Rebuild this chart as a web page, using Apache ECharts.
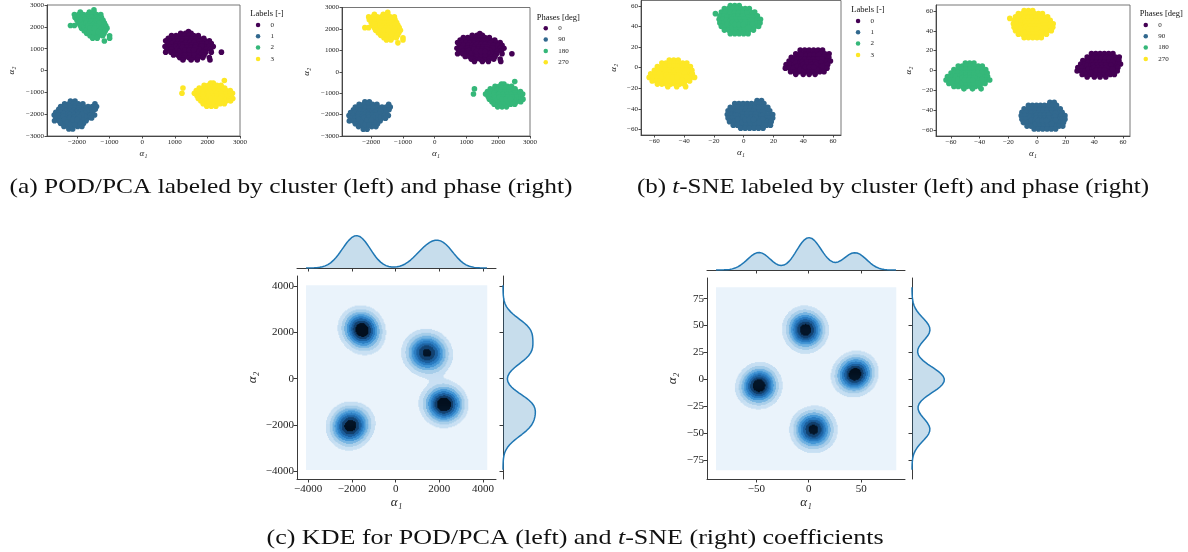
<!DOCTYPE html>
<html>
<head>
<meta charset="utf-8">
<script src="https://cdn.jsdelivr.net/npm/echarts@6/dist/echarts.min.js"></script>
<style>
  html, body { margin: 0; padding: 0; background: #fff; }
  #chart { width: 1188px; height: 552px; }
</style>
</head>
<body>
<div id="chart"></div>
<script>
// ---------------------------------------------------------------------------
// Data: 2-D embedding coefficients (alpha1, alpha2) grouped by cluster label.
// Each row is [alpha2, [alpha1, alpha1, ...]] — points sharing roughly one alpha2.
// The later rows of each cluster hold its denser core.
// ---------------------------------------------------------------------------
const pcaCluster0 = [
  [1780, [1420]],
  [1700, [1180, 1330, 1500]],
  [1600, [900, 1040, 1170, 1300, 1440, 1580, 1720]],
  [1480, [800, 940, 1070, 1200, 1340, 1470, 1610, 1750, 1890]],
  [1360, [720, 860, 990, 1120, 1260, 1390, 1530, 1660, 1800, 1930, 2060]],
  [1230, [780, 910, 1050, 1180, 1310, 1450, 1580, 1710, 1850, 1990, 2120]],
  [1100, [700, 840, 980, 1110, 1240, 1380, 1510, 1640, 1780, 1910, 2050, 2180]],
  [970,  [760, 900, 1030, 1170, 1300, 1430, 1570, 1700, 1830, 1970, 2100]],
  [840,  [720, 880, 1010, 1140, 1280, 1410, 1540, 1680, 1810, 1950, 2120, 2430]],
  [710,  [960, 1090, 1230, 1360, 1500, 1630, 1770, 1900]],
  [590,  [1150, 1290, 1430, 1580, 1720, 1860, 2060]],
  [480,  [1250, 1500, 1690, 2080]],
  [1440, [1250, 1380, 1510, 1640]],
  [1330, [1100, 1230, 1360, 1490, 1620, 1750]],
  [1220, [1050, 1180, 1310, 1440, 1570, 1700, 1830]],
  [1110, [1040, 1170, 1300, 1430, 1560, 1690, 1820]],
  [1000, [1080, 1210, 1340, 1470, 1600, 1730]],
  [890,  [1160, 1290, 1420, 1550, 1680]],
  [790,  [1330, 1460, 1590]],
  [1280, [1330, 1460, 1590]],
  [1170, [1250, 1380, 1510, 1640]],
  [1060, [1240, 1370, 1500, 1630]],
  [950,  [1320, 1450, 1580]]
];
const pcaCluster1 = [
  [-1400, [-2200, -2060]],
  [-1520, [-2380, -2240, -2100, -1960, -1820, -1450]],
  [-1650, [-2500, -2360, -2220, -2080, -1940, -1800, -1660, -1530, -1400]],
  [-1780, [-2560, -2420, -2280, -2140, -2000, -1860, -1720, -1580, -1440]],
  [-1910, [-2650, -2510, -2370, -2230, -2090, -1950, -1810, -1670, -1530]],
  [-2040, [-2700, -2570, -2430, -2290, -2150, -2010, -1870, -1730, -1590, -1460]],
  [-2170, [-2650, -2510, -2370, -2230, -2090, -1950, -1810, -1670, -1550]],
  [-2300, [-2690, -2560, -2420, -2280, -2140, -2000, -1860, -1720]],
  [-2430, [-2500, -2360, -2220, -2080, -1940, -1800]],
  [-2560, [-2400, -2260, -2120, -1980, -1850]],
  [-2680, [-2250, -2130]],
  [-1720, [-2200, -2070, -1940]],
  [-1840, [-2350, -2220, -2090, -1960, -1830, -1700]],
  [-1970, [-2400, -2270, -2140, -2010, -1880, -1750]],
  [-2100, [-2410, -2280, -2150, -2020, -1890, -1760]],
  [-2230, [-2380, -2250, -2120, -1990, -1860]],
  [-2360, [-2300, -2170, -2040, -1910]],
  [-2470, [-2200, -2070]],
  [-1900, [-2150, -2020, -1890]],
  [-1960, [-2100, -1980]],
  [-2020, [-2220, -2090, -1960, -1850]],
  [-2140, [-2210, -2080, -1950]],
  [-2250, [-2130, -2000]]
];
const pcaCluster2 = [
  [2780, [-1480]],
  [2680, [-1900, -1620, -1480]],
  [2560, [-2080, -1950, -1810, -1680, -1540, -1400, -1270]],
  [2430, [-2060, -1920, -1790, -1650, -1520, -1380, -1250]],
  [2300, [-2000, -1870, -1730, -1600, -1460, -1330, -1200]],
  [2170, [-1960, -1830, -1690, -1560, -1420, -1290, -1160]],
  [2060, [-2200, -2080, -1900, -1770, -1640, -1500, -1370, -1240, -1120]],
  [1940, [-1860, -1730, -1600, -1460, -1330, -1200, -1080]],
  [1820, [-1780, -1650, -1510, -1380, -1250, -1130]],
  [1700, [-1700, -1560, -1430, -1300, -1170]],
  [1590, [-1600, -1470, -1340, -1210, -1000]],
  [1480, [-1520, -1380, -1000]],
  [1350, [-1160]],
  [2440, [-1800, -1670, -1540, -1410]],
  [2330, [-1880, -1750, -1620, -1490, -1360]],
  [2220, [-1890, -1760, -1630, -1500, -1370, -1240]],
  [2110, [-1830, -1700, -1570, -1440, -1310, -1180]],
  [2000, [-1780, -1650, -1520, -1390, -1260]],
  [1890, [-1700, -1570, -1440, -1310]],
  [1780, [-1620, -1490, -1360]],
  [2270, [-1700, -1570, -1440]],
  [2160, [-1720, -1590, -1460, -1330]],
  [2110, [-1640, -1500]],
  [2050, [-1670, -1540, -1410]],
  [1940, [-1600, -1470]]
];
const pcaCluster3 = [
  [-460,  [2520]],
  [-570,  [2100, 2180]],
  [-680,  [1900, 2030, 2160, 2290, 2420]],
  [-800,  [1250, 1750, 1880, 2010, 2140, 2270, 2400, 2530]],
  [-920,  [1660, 1790, 1920, 2050, 2180, 2310, 2440, 2570, 2700]],
  [-1040, [1220, 1600, 1730, 1860, 1990, 2120, 2250, 2380, 2510, 2640, 2770]],
  [-1160, [1680, 1810, 1940, 2070, 2200, 2330, 2460, 2590, 2720]],
  [-1280, [1720, 1850, 1980, 2110, 2240, 2370, 2500, 2630, 2780]],
  [-1400, [1800, 1930, 2060, 2190, 2320, 2450, 2580, 2710]],
  [-1520, [1870, 2000, 2130, 2260, 2390, 2520]],
  [-1640, [1980, 2120, 2260]],
  [-760,  [2100, 2230, 2360]],
  [-870,  [1960, 2090, 2220, 2350, 2480]],
  [-980,  [1880, 2010, 2140, 2270, 2400, 2530]],
  [-1090, [1870, 2000, 2130, 2260, 2390, 2520]],
  [-1200, [1900, 2030, 2160, 2290, 2420, 2550]],
  [-1310, [1980, 2110, 2240, 2370, 2500]],
  [-1420, [2060, 2190, 2320, 2450]],
  [-950,  [2080, 2210, 2340]],
  [-1060, [2020, 2150, 2280, 2410]],
  [-1170, [2040, 2170, 2300, 2430]],
  [-1280, [2120, 2250, 2380]]
];

const tsneCluster0 = [
  [17,   [38, 41, 44, 47, 50, 53]],
  [13.5, [35, 37.8, 40.6, 43.4, 46.2, 49, 51.8, 54.6, 57.4]],
  [10,   [32, 34.8, 37.6, 40.4, 43.2, 46, 48.8, 51.6, 54.4, 57.2]],
  [6.5,  [30.5, 33.3, 36.1, 38.9, 41.7, 44.5, 47.3, 50.1, 52.9, 55.7, 58.3]],
  [3,    [28.5, 31.3, 34.1, 36.9, 39.7, 42.5, 45.3, 48.1, 50.9, 53.7, 56.5]],
  [-0.5, [28, 30.8, 33.6, 36.4, 39.2, 42, 44.8, 47.6, 50.4, 53.2, 56]],
  [-4,   [31.5, 34.3, 37.1, 39.9, 42.7, 45.5, 48.3, 51.1, 54]],
  [-6.5, [35, 40, 44, 48]],
  [12,   [39, 41.8, 44.6, 47.4, 50.2]],
  [8.5,  [36, 38.8, 41.6, 44.4, 47.2, 50, 52.8]],
  [5,    [35, 37.8, 40.6, 43.4, 46.2, 49, 51.8]],
  [1.5,  [36, 38.8, 41.6, 44.4, 47.2, 50, 52.8]],
  [-1.8, [38, 40.8, 43.6, 46.4, 49.2]],
  [8,    [41, 43.8, 46.6]],
  [5.5,  [39.5, 42.3, 45.1, 47.9]],
  [3,    [40, 42.8, 45.6, 48.4]],
  [0.5,  [41.5, 44.3, 47.1]]
];
const tsneCluster1 = [
  [-32,   [9, 12]],
  [-35,   [-6, -3.2, -0.4, 2.4, 5.2, 8, 10.8, 13.6]],
  [-38.5, [-9, -6.2, -3.4, -0.6, 2.2, 5, 7.8, 10.6, 13.4, 16.2]],
  [-42,   [-10.5, -7.7, -4.9, -2.1, 0.7, 3.5, 6.3, 9.1, 11.9, 14.7, 17.5]],
  [-45.5, [-11, -8.2, -5.4, -2.6, 0.2, 3, 5.8, 8.6, 11.4, 14.2, 17, 19.5]],
  [-49,   [-10.5, -7.7, -4.9, -2.1, 0.7, 3.5, 6.3, 9.1, 11.9, 14.7, 17.5, 19.5]],
  [-52.5, [-9.5, -6.7, -3.9, -1.1, 1.7, 4.5, 7.3, 10.1, 12.9, 15.7, 18.5]],
  [-56,   [-7, -4.2, -1.4, 1.4, 4.2, 7, 9.8, 12.6, 15.4, 18]],
  [-59,   [-2, 1, 4, 7, 10, 13]],
  [-39.5, [-1, 1.8, 4.6, 7.4, 10.2]],
  [-43,   [-4, -1.2, 1.6, 4.4, 7.2, 10, 12.8]],
  [-46.5, [-4.5, -1.7, 1.1, 3.9, 6.7, 9.5, 12.3]],
  [-50,   [-4, -1.2, 1.6, 4.4, 7.2, 10, 12.8]],
  [-53.5, [-1, 1.8, 4.6, 7.4, 10.2]],
  [-42.5, [1, 3.8, 6.6]],
  [-45,   [-0.5, 2.3, 5.1, 7.9]],
  [-48,   [-0.5, 2.3, 5.1, 7.9]],
  [-50.5, [1, 3.8, 6.6]]
];
const tsneCluster2 = [
  [60.5, [-9, -6, -3]],
  [57.5, [-13, -10.2, -7.4, -4.6, -1.8, 1, 3.8]],
  [54,   [-15, -12.2, -9.4, -6.6, -3.8, -1, 1.8, 4.6, 7.4]],
  [52.5, [-19]],
  [50.5, [-16, -13.2, -10.4, -7.6, -4.8, -2, 0.8, 3.6, 6.4, 9.2]],
  [47,   [-16.5, -13.7, -10.9, -8.1, -5.3, -2.5, 0.3, 3.1, 5.9, 8.7, 11.3]],
  [43.5, [-16, -13.2, -10.4, -7.6, -4.8, -2, 0.8, 3.6, 6.4, 9.2, 11]],
  [40,   [-15, -12.2, -9.4, -6.6, -3.8, -1, 1.8, 4.6, 7.4, 10]],
  [36.5, [-13, -10.2, -7.4, -4.6, -1.8, 1, 3.8, 6.6]],
  [33,   [-9, -6, -3, 0, 3]],
  [53,   [-9, -6.2, -3.4, -0.6, 2.2]],
  [49.5, [-11, -8.2, -5.4, -2.6, 0.2, 3, 5.8]],
  [46,   [-11.5, -8.7, -5.9, -3.1, -0.3, 2.5, 5.3]],
  [42.5, [-11, -8.2, -5.4, -2.6, 0.2, 3, 5.8]],
  [39,   [-8, -5.2, -2.4, 0.4, 3.2]],
  [50,   [-6.5, -3.7, -0.9]],
  [47.5, [-8, -5.2, -2.4, 0.4]],
  [44.5, [-7.5, -4.7, -1.9, 0.9]],
  [42,   [-6, -3.2, -0.4]]
];
const tsneCluster3 = [
  [7.5,   [-50, -47, -44]],
  [4.5,   [-55, -52.2, -49.4, -46.6, -43.8, -41, -38.2]],
  [1,     [-58, -55.2, -52.4, -49.6, -46.8, -44, -41.2, -38.4, -35.8]],
  [-2.5,  [-60, -57.2, -54.4, -51.6, -48.8, -46, -43.2, -40.4, -37.6, -34.8]],
  [-6,    [-62.5, -59.7, -56.9, -54.1, -51.3, -48.5, -45.7, -42.9, -40.1, -37.3, -34.5]],
  [-9.5,  [-63.5, -60.7, -57.9, -55.1, -52.3, -49.5, -46.7, -43.9, -41.1, -38.3, -35.5, -33]],
  [-13,   [-61.5, -58.7, -55.9, -53.1, -50.3, -47.5, -44.7, -41.9, -39.1, -36.3]],
  [-16,   [-58, -55, -52, -49, -46, -43, -40]],
  [-18.5, [-51, -45, -39]],
  [1.5,   [-52.5, -49.7, -46.9, -44.1, -41.3]],
  [-2,    [-55, -52.2, -49.4, -46.6, -43.8, -41, -38.5]],
  [-5.5,  [-56.5, -53.7, -50.9, -48.1, -45.3, -42.5, -39.7]],
  [-9,    [-55, -52.2, -49.4, -46.6, -43.8, -41, -38.5]],
  [-12.5, [-52.5, -49.7, -46.9, -44.1, -41.3]],
  [-2.5,  [-51, -48.2, -45.4]],
  [-4.5,  [-52.5, -49.7, -46.9, -44.1]],
  [-7,    [-52, -49.2, -46.4, -43.6]],
  [-9.5,  [-50.5, -47.7, -44.9]]
];

// Labels and phases
const clusterLabels = ['0', '1', '2', '3'];
const phaseLabels = ['0', '90', '180', '270'];
const clusterPhase = [0, 90, 270, 180];          // phase [deg] of cluster label 0..3
const viridis4 = ['#440154', '#31688e', '#35b779', '#fde725'];

// Tick values
const pcaScatterXTicks = [-2000, -1000, 0, 1000, 2000, 3000];
const pcaScatterYTicks = [-3000, -2000, -1000, 0, 1000, 2000, 3000];
const tsneScatterTicks = [-60, -40, -20, 0, 20, 40, 60];
const pcaKdeTicks = [-4000, -2000, 0, 2000, 4000];
const tsneKdeXTicks = [-50, 0, 50];
const tsneKdeYTicks = [-75, -50, -25, 0, 25, 50, 75];

// KDE settings (Scott-type bandwidth factor, contour levels, colours low -> high)
const KDE_FACTOR_2D = 0.25;
const KDE_FACTOR_1D = 0.25;
const KDE_LEVELS = 10;
const KDE_CELLS = 190;
const KDE_COLORS = ['#eaf3fb', '#c5def2', '#a6cde9', '#74b3e1', '#4597d6', '#2a7bc0', '#1c5f9d', '#123f6c', '#03101f'];
const MARGIN_COLOR = '#1f77b4';

const SERIF = 'Liberation Serif, DejaVu Serif, serif';

// ---------------------------------------------------------------------------
function expandRows(rows) {
  const pts = [];
  rows.forEach(([y, xs]) => xs.forEach(x => pts.push([x, y])));
  return pts;
}
const pcaClusters = [pcaCluster0, pcaCluster1, pcaCluster2, pcaCluster3].map(expandRows);
const tsneClusters = [tsneCluster0, tsneCluster1, tsneCluster2, tsneCluster3].map(expandRows);

// every cluster carries the same total weight
function weighted(clusters) {
  const pts = [], w = [];
  clusters.forEach(c => c.forEach(p => { pts.push(p); w.push(1 / (clusters.length * c.length)); }));
  return { pts, w };
}

function kde2d(clusters) {
  const { pts, w } = weighted(clusters);
  let mx = 0, my = 0;
  pts.forEach((p, i) => { mx += w[i] * p[0]; my += w[i] * p[1]; });
  let sxx = 0, syy = 0, sxy = 0;
  pts.forEach((p, i) => {
    const dx = p[0] - mx, dy = p[1] - my;
    sxx += w[i] * dx * dx; syy += w[i] * dy * dy; sxy += w[i] * dx * dy;
  });
  const f2 = KDE_FACTOR_2D * KDE_FACTOR_2D;
  const hxx = f2 * sxx, hyy = f2 * syy, hxy = f2 * sxy;
  const det = hxx * hyy - hxy * hxy;
  const ixx = hyy / det, iyy = hxx / det, ixy = -hxy / det;
  const bx = Math.sqrt(hxx), by = Math.sqrt(hyy);
  const xs = pts.map(p => p[0]), ys = pts.map(p => p[1]);
  const x0 = Math.min(...xs) - 3 * bx, x1 = Math.max(...xs) + 3 * bx;
  const y0 = Math.min(...ys) - 3 * by, y1 = Math.max(...ys) + 3 * by;
  const n = KDE_CELLS, dx = (x1 - x0) / n, dy = (y1 - y0) / n;
  const dens = new Float64Array(n * n);
  for (let j = 0; j < n; j++) {
    const gy = y0 + (j + 0.5) * dy;
    for (let i = 0; i < n; i++) {
      const gx = x0 + (i + 0.5) * dx;
      let s = 0;
      for (let k = 0; k < pts.length; k++) {
        const ux = gx - pts[k][0], uy = gy - pts[k][1];
        const q = ux * ux * ixx + 2 * ux * uy * ixy + uy * uy * iyy;
        if (q < 60) s += w[k] * Math.exp(-0.5 * q);
      }
      dens[j * n + i] = s;
    }
  }
  // iso-proportion levels
  const sorted = Array.from(dens).sort((a, b) => a - b);
  const cum = new Float64Array(sorted.length);
  let tot = 0;
  sorted.forEach((v, i) => { tot += v; cum[i] = tot; });
  const levels = [];
  for (let k = 0; k < KDE_LEVELS; k++) {
    const q = k / (KDE_LEVELS - 1);
    let idx = 0;
    while (idx < cum.length - 1 && cum[idx] / tot < q) idx++;
    levels.push(sorted[idx]);
  }
  const bandOf = d => {
    let b = 0;
    for (let k = 1; k < KDE_LEVELS - 1; k++) if (d >= levels[k]) b = k;
    return b;
  };
  // rectangles: background, then each band drawn over the lower ones (row runs)
  const rects = [[x0, y0, x1, y1, 0]];
  const bands = Array.from(dens, bandOf);
  for (let b = 1; b < KDE_LEVELS - 1; b++) {
    for (let j = 0; j < n; j++) {
      let start = -1;
      for (let i = 0; i <= n; i++) {
        const inside = i < n && bands[j * n + i] >= b;
        if (inside && start < 0) start = i;
        if (!inside && start >= 0) {
          rects.push([x0 + start * dx, y0 + j * dy, x0 + i * dx, y0 + (j + 1) * dy, b]);
          start = -1;
        }
      }
    }
  }
  const padX = 0.05 * (x1 - x0), padY = 0.05 * (y1 - y0);
  return { rects, xMin: x0 - padX, xMax: x1 + padX, yMin: y0 - padY, yMax: y1 + padY };
}

function kde1d(clusters, dim) {
  const { pts, w } = weighted(clusters);
  const v = pts.map(p => p[dim]);
  let m = 0; v.forEach((x, i) => { m += w[i] * x; });
  let s2 = 0; v.forEach((x, i) => { s2 += w[i] * (x - m) * (x - m); });
  const bw = KDE_FACTOR_1D * Math.sqrt(s2);
  const a = Math.min(...v) - 3 * bw, b = Math.max(...v) + 3 * bw;
  const out = [];
  const N = 200;
  for (let k = 0; k < N; k++) {
    const x = a + (b - a) * k / (N - 1);
    let s = 0;
    v.forEach((xi, i) => { const u = (x - xi) / bw; s += w[i] * Math.exp(-0.5 * u * u); });
    out.push([x, s / (bw * Math.sqrt(2 * Math.PI))]);
  }
  return out;
}

const pcaKde = kde2d(pcaClusters);
const tsneKde = kde2d(tsneClusters);
const pcaMargX = kde1d(pcaClusters, 0), pcaMargY = kde1d(pcaClusters, 1);
const tsneMargX = kde1d(tsneClusters, 0), tsneMargY = kde1d(tsneClusters, 1);

// ---------------------------------------------------------------------------
const minus = v => (v < 0 ? '\u2212' + Math.abs(v) : String(v));

function axis(gridIndex, min, max, ticks, o) {
  o = o || {};
  return {
    type: 'value', gridIndex, min, max,
    name: o.name, nameLocation: 'middle', nameGap: o.nameGap,
    nameTextStyle: { fontFamily: SERIF, fontStyle: 'italic', fontSize: o.nameSize || 9, color: '#222' },
    axisLine: { show: o.line !== false, onZero: false, lineStyle: { color: '#3a3a3a', width: o.lw || 0.9 } },
    axisTick: { show: !!ticks, customValues: ticks || [], length: o.tickLen || 2.5,
                lineStyle: { color: '#3a3a3a', width: o.lw || 0.9 } },
    axisLabel: { show: o.labels !== false && !!ticks, customValues: ticks || [], formatter: minus,
                 fontFamily: SERIF, fontSize: o.fontSize || 7, color: '#222', margin: o.margin || 3 },
    splitLine: { show: false }
  };
}

const grids = [
  { left: 47,  top: 5,   width: 193, height: 131, show: true, borderColor: '#666', borderWidth: 0.9 },
  { left: 342, top: 7.5, width: 188, height: 128.5, show: true, borderColor: '#666', borderWidth: 0.9 },
  { left: 641, top: 0.5, width: 200, height: 134.5, show: true, borderColor: '#666', borderWidth: 0.9 },
  { left: 936, top: 5,   width: 194, height: 131, show: true, borderColor: '#666', borderWidth: 0.9 },
  { left: 297, top: 276, width: 199, height: 203 },   // KDE POD/PCA
  { left: 297, top: 234, width: 199, height: 34 },    // top marginal
  { left: 503, top: 276, width: 34,  height: 203 },   // right marginal
  { left: 707, top: 278, width: 198, height: 201 },   // KDE t-SNE
  { left: 707, top: 236, width: 198, height: 34 },
  { left: 912, top: 278, width: 34,  height: 201 }
];

const xAxes = [
  axis(0, -2920, 3000, pcaScatterXTicks, { name: 'α₁', nameGap: 13 }),
  axis(1, -2920, 3000, pcaScatterXTicks, { name: 'α₁', nameGap: 13 }),
  axis(2, -69, 65.4, tsneScatterTicks, { name: 'α₁', nameGap: 13 }),
  axis(3, -70.5, 64.9, tsneScatterTicks, { name: 'α₁', nameGap: 13 }),
  axis(4, pcaKde.xMin, pcaKde.xMax, pcaKdeTicks, { name: 'α₁', nameGap: 17, nameSize: 13, fontSize: 11, tickLen: 3.5, lw: 1, margin: 5 }),
  axis(5, pcaKde.xMin, pcaKde.xMax, pcaKdeTicks, { labels: false, tickLen: 3.5, lw: 1 }),
  Object.assign(axis(6, 0, null, null, { line: false, labels: false }), { max: v => v.max * 1.05 }),
  axis(7, tsneKde.xMin, tsneKde.xMax, tsneKdeXTicks, { name: 'α₁', nameGap: 17, nameSize: 13, fontSize: 11, tickLen: 3.5, lw: 1, margin: 5 }),
  axis(8, tsneKde.xMin, tsneKde.xMax, tsneKdeXTicks, { labels: false, tickLen: 3.5, lw: 1 }),
  Object.assign(axis(9, 0, null, null, { line: false, labels: false }), { max: v => v.max * 1.05 })
];
const yAxes = [
  axis(0, -3000, 3000, pcaScatterYTicks, { name: 'α₂', nameGap: 31 }),
  axis(1, -3000, 3000, pcaScatterYTicks, { name: 'α₂', nameGap: 31 }),
  axis(2, -65.5, 65.3, tsneScatterTicks, { name: 'α₂', nameGap: 23 }),
  axis(3, -66, 66, tsneScatterTicks, { name: 'α₂', nameGap: 23 }),
  axis(4, pcaKde.yMin, pcaKde.yMax, pcaKdeTicks, { name: 'α₂', nameGap: 38, nameSize: 13, fontSize: 11, tickLen: 3.5, lw: 1 }),
  Object.assign(axis(5, 0, null, null, { line: false, labels: false }), { max: v => v.max * 1.05 }),
  axis(6, pcaKde.yMin, pcaKde.yMax, pcaKdeTicks, { labels: false, tickLen: 3.5, lw: 1 }),
  axis(7, tsneKde.yMin, tsneKde.yMax, tsneKdeYTicks, { name: 'α₂', nameGap: 28, nameSize: 13, fontSize: 11, tickLen: 3.5, lw: 1 }),
  Object.assign(axis(8, 0, null, null, { line: false, labels: false }), { max: v => v.max * 1.05 }),
  axis(9, tsneKde.yMin, tsneKde.yMax, tsneKdeYTicks, { labels: false, tickLen: 3.5, lw: 1 })
];

// ---------------------------------------------------------------------------
const series = [];

function scatter(gridIndex, clusters, byPhase) {
  const order = byPhase ? phaseLabels.map(p => clusterPhase.indexOf(Number(p))) : [0, 1, 2, 3];
  order.forEach((c, idx) => {
    series.push({
      type: 'scatter', name: byPhase ? phaseLabels[idx] : clusterLabels[c],
      xAxisIndex: gridIndex, yAxisIndex: gridIndex,
      data: clusters[c], symbol: 'circle', symbolSize: 5.6,
      itemStyle: { color: viridis4[idx], opacity: 1 },
      silent: true
    });
  });
}
scatter(0, pcaClusters, false);
scatter(1, pcaClusters, true);
scatter(2, tsneClusters, false);
scatter(3, tsneClusters, true);

function kdeSeries(gridIndex, kde) {
  series.push({
    type: 'custom', xAxisIndex: gridIndex, yAxisIndex: gridIndex,
    data: kde.rects, progressive: 0, silent: true, clip: true,
    renderItem: (params, api) => {
      const a = api.coord([api.value(0), api.value(3)]);
      const b = api.coord([api.value(2), api.value(1)]);
      return {
        type: 'rect',
        shape: { x: a[0], y: a[1], width: b[0] - a[0] + 0.3, height: b[1] - a[1] + 0.3 },
        style: { fill: KDE_COLORS[api.value(4)] }
      };
    }
  });
}
kdeSeries(4, pcaKde);
kdeSeries(7, tsneKde);

function marginTop(gridIndex, curve) {
  series.push({
    type: 'line', xAxisIndex: gridIndex, yAxisIndex: gridIndex, data: curve,
    showSymbol: false, symbol: 'none', smooth: false, silent: true,
    lineStyle: { color: MARGIN_COLOR, width: 1.5 },
    areaStyle: { color: MARGIN_COLOR, opacity: 0.25 }
  });
}
function marginRight(gridIndex, curve) {
  const pts = curve.map(([y, d]) => [d, y]);
  series.push({
    type: 'custom', xAxisIndex: gridIndex, yAxisIndex: gridIndex, data: pts, silent: true,
    renderItem: (params, api) => {
      if (params.dataIndex !== 0) return null;
      const poly = [api.coord([0, pts[0][1]])]
        .concat(pts.map(p => api.coord(p)))
        .concat([api.coord([0, pts[pts.length - 1][1]])]);
      return { type: 'polygon', shape: { points: poly }, style: { fill: MARGIN_COLOR, opacity: 0.25 } };
    }
  });
  series.push({
    type: 'line', xAxisIndex: gridIndex, yAxisIndex: gridIndex, data: pts,
    showSymbol: false, symbol: 'none', smooth: false, silent: true,
    lineStyle: { color: MARGIN_COLOR, width: 1.5 }
  });
}
marginTop(5, pcaMargX);
marginRight(6, pcaMargY);
marginTop(8, tsneMargX);
marginRight(9, tsneMargY);

// ---------------------------------------------------------------------------
function legend(left, top, names) {
  return {
    left, top, orient: 'vertical', padding: 0, icon: 'circle',
    itemWidth: 15, itemHeight: 4.5, itemGap: 3.3, data: names, selectedMode: false,
    textStyle: { fontFamily: SERIF, fontSize: 7, color: '#222', lineHeight: 8 }
  };
}

// centred text; stretchX widens the serif face horizontally
function text(x, y, str, size, stretchX) {
  return {
    type: 'text', x, y, scaleX: stretchX || 1, silent: true,
    style: {
      text: str, fontFamily: SERIF, fontSize: size, fill: '#111',
      align: 'center', verticalAlign: 'middle',
      rich: { i: { fontFamily: SERIF, fontSize: size, fontStyle: 'italic', fill: '#111' } }
    }
  };
}

const chart = echarts.init(document.getElementById('chart'), null, { renderer: 'canvas' });
chart.setOption({
  animation: false,
  backgroundColor: '#fff',
  grid: grids,
  xAxis: xAxes,
  yAxis: yAxes,
  legend: [
    legend(255.8, 21, clusterLabels),
    legend(543.5, 24.3, phaseLabels),
    legend(855.8, 17, clusterLabels),
    legend(1143.5, 21, phaseLabels)
  ],
  graphic: [
    text(267, 14, 'Labels [-]', 8.5),
    text(558.3, 18, 'Phases [deg]', 8.5),
    text(868, 10, 'Labels [-]', 8.5),
    text(1161.3, 14, 'Phases [deg]', 8.5),
    text(291, 187, '(a) POD/PCA labeled by cluster (left) and phase (right)', 21, 1.21),
    text(893, 187, '(b) {i|t}-SNE labeled by cluster (left) and phase (right)', 21, 1.19),
    text(575, 538, '(c) KDE for POD/PCA (left) and {i|t}-SNE (right) coefficients', 21, 1.24)
  ],
  series
});
</script>
</body>
</html>
